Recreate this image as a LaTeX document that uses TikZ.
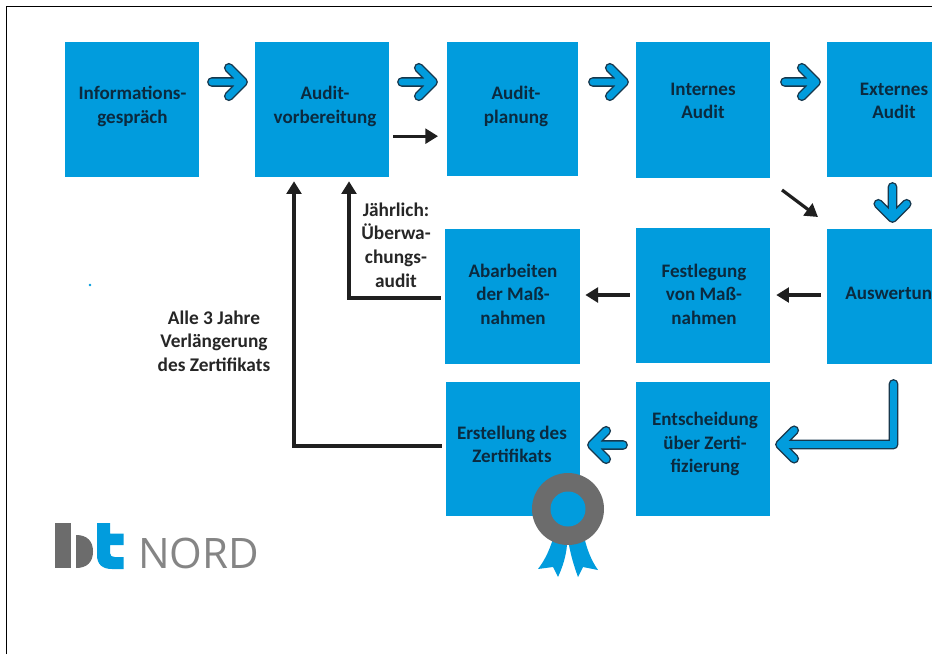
\documentclass[tikz,border=0pt]{standalone}
\usepackage{fontspec}
\setmainfont{Carlito}
\newfontfamily\logofont{Open Sans}
\usetikzlibrary{calc,arrows.meta}
\definecolor{bandblue}{HTML}{019CDD}
\definecolor{darkline}{HTML}{17384D}
\definecolor{boxink}{HTML}{0B2A3F}
\definecolor{sealgray}{HTML}{6C6C6C}
\definecolor{nordgray}{HTML}{858585}
\tikzset{
  x=0.75pt,y=-0.75pt,
  bluebox/.style 2 args={fill=bandblue,draw=none,inner sep=0pt,minimum width=#1*0.75pt,minimum height=#2*0.75pt},
  boxtext/.style={align=center,inner sep=0pt,text=boxink,font=\bfseries\fontsize{14.3pt}{17.7pt}\selectfont},
  plaintext/.style={align=center,inner sep=0pt,text=black!85,font=\bfseries\fontsize{14.5pt}{17.7pt}\selectfont},
  blackarrow/.style={draw=black!88,line width=2.4pt,-{Triangle[length=9.5pt,width=11pt]}},
  fatouter/.style={draw=darkline,line width=7.4pt,line cap=round,line join=round},
  fatinner/.style={draw=bandblue,line width=5.2pt,line cap=round,line join=round},
}
% #1 shaft path, #2 point the last shaft segment comes from, #3 tip
\newcommand{\fatarrow}[3]{%
  \foreach \fatstyle in {fatouter,fatinner}{%
    \draw[\fatstyle] #1 ($(#3)!15pt!45:(#2)$) -- (#3) -- ($(#3)!15pt!-45:(#2)$);
  }%
}
\begin{document}
\begin{tikzpicture}
\useasboundingbox (0,0) rectangle (932,654);
\fill[white] (0,0) rectangle (932,654);
% frame
\draw[black,line width=1.3pt] (6.5,654) -- (6.5,6.5) -- (932,6.5);

% boxes
\node[bluebox={134}{135}] (info) at (132,109.5) {};
\node[bluebox={134}{135}] (vorb) at (322,109.5) {};
\node[bluebox={131}{134}] (plan) at (512.5,109) {};
\node[bluebox={134}{136}] (intern) at (703,110) {};
\node[bluebox={105}{135}] (extern) at (879.5,109.5) {};
\node[bluebox={135}{135}] (abarb) at (512.5,296.5) {};
\node[bluebox={134}{135}] (festl) at (703,295.5) {};
\node[bluebox={105}{135}] (ausw) at (879.5,296.5) {};
\node[bluebox={134}{134}] (erst) at (513,449) {};
\node[bluebox={134}{134}] (entsch) at (703,449) {};

% box texts
\node[boxtext] (infot) at (132.5,106.5) {Informations-\\gespräch};
\node[boxtext] (vorbt) at (325,106.5) {Audit-\\vorbereitung};
\node[boxtext] (plant) at (516,106.5) {Audit-\\planung};
\node[boxtext] (internt) at (703,101) {Internes\\Audit};
\node[boxtext] (externt) at (894,101) {Externes\\Audit};
\node[boxtext] (abarbt) at (513,294) {Abarbeiten\\der Maß-\\nahmen};
\node[boxtext] (festlt) at (704,294) {Festlegung\\von Maß-\\nahmen};
\node[boxtext,anchor=west] (auswt) at (845,294.5) {Auswertung};
\node[boxtext] (erstt) at (512,444.5) {Erstellung des\\Zertifikats};
\node[boxtext] (entscht) at (705,444) {Entscheidung\\über Zerti-\\fizierung};

% free labels
\node[plaintext] (jaehr) at (396,245) {Jährlich:\\Überwa-\\chungs-\\audit};
\node[plaintext] (alle) at (214,341) {Alle 3 Jahre\\Verlängerung\\des Zertifikats};

% fat arrows
\coordinate (f1a) at (212,82); \coordinate (f1b) at (243,82);
\coordinate (f2a) at (402,82); \coordinate (f2b) at (433,82);
\coordinate (f3a) at (593,82); \coordinate (f3b) at (624,82);
\coordinate (f4a) at (785,82); \coordinate (f4b) at (816,82);
\coordinate (f5a) at (892.5,187); \coordinate (f5b) at (892.5,218);
\coordinate (f6a) at (893.5,384); \coordinate (f6c) at (893.5,444.5); \coordinate (f6b) at (780,444.5);
\coordinate (f7a) at (623,445); \coordinate (f7b) at (592,445);
\fatarrow{(f1a) -- (f1b)}{f1a}{f1b}
\fatarrow{(f2a) -- (f2b)}{f2a}{f2b}
\fatarrow{(f3a) -- (f3b)}{f3a}{f3b}
\fatarrow{(f4a) -- (f4b)}{f4a}{f4b}
\fatarrow{(f5a) -- (f5b)}{f5a}{f5b}
\fatarrow{(f6a) -- (f6c) -- (f6b)}{f6c}{f6b}
\fatarrow{(f7a) -- (f7b)}{f7a}{f7b}

% black arrows
\draw[blackarrow,shorten <=3pt,shorten >=6.5pt] ([yshift=-20pt]vorb.east) -- ([yshift=-20.375pt]plan.west);
\coordinate (diaga) at (782,190); \coordinate (diagb) at (818,217);
\draw[blackarrow] (diaga) -- (diagb);
\draw[blackarrow,shorten <=4.5pt,shorten >=4.5pt] ([yshift=1.125pt]ausw.west) -- ([yshift=0.375pt]festl.east);
\draw[blackarrow,shorten <=4.5pt,shorten >=3.8pt] ([yshift=0.375pt]festl.west) -- ([yshift=1.125pt]abarb.east);
\draw[blackarrow,shorten <=3pt,shorten >=3pt] ([yshift=-1.1pt]abarb.west) -| ([xshift=20.25pt]vorb.south);
\draw[blackarrow,shorten <=3pt,shorten >=3pt] ([yshift=2.2pt]erst.west) -| ([xshift=-21pt]vorb.south);

% seal
\fill[bandblue] (555,531) .. controls (551,548) and (545,560) .. (538,569) -- (553,567) -- (558,577) .. controls (563,566) and (566,556) .. (567,545) -- cycle;
\fill[bandblue] (569,545) .. controls (571,556) and (574,566) .. (578,577) -- (583,567) -- (598,570) .. controls (591,560) and (586,548) .. (583,531) -- cycle;
\fill[sealgray] (568,509) circle[radius=36];
\fill[bandblue] (568,509) circle[radius=17.5];

% small dot
\fill[bandblue] (90,285) circle[radius=1.3];

% logo
\fill[sealgray] (55,523) rectangle (70.5,568);
\fill[sealgray] (76,535) .. controls (87,535) and (93,541) .. (93,551.5) .. controls (93,562) and (87,568) .. (76,568) -- cycle;
\fill[bandblue] (97,523) -- (110,523) -- (110,533.5) -- (123.5,533.5) -- (123.5,545) -- (110,545) -- (110,553)
  .. controls (110,556) and (112,557) .. (115,557) -- (123.5,557) -- (123.5,569) -- (112,569)
  .. controls (102,569) and (97,564) .. (97,555) -- cycle;
\node[anchor=base west,inner sep=0pt,text=nordgray,font=\logofont\fontsize{31.5pt}{31.5pt}\selectfont] (nord) at (138,568) {NORD};
\end{tikzpicture}
\end{document}
